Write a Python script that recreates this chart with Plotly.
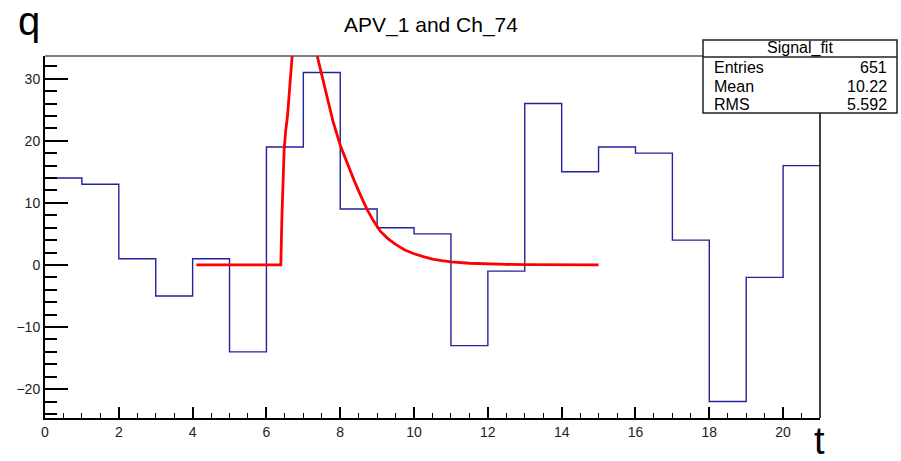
import plotly.graph_objects as go

# ---- data ----
bin_edges = list(range(0, 22))
bin_counts = [14, 13, 1, -5, 1, -14, 19, 31, 9, 6, 5, -13, -1, 26, 15, 19, 18, 4, -22, -2, 16]

fit_t = [4.1, 5.0, 6.0, 6.39, 6.42, 6.45, 6.48, 6.52, 6.57, 6.64, 6.70, 6.8, 6.9, 7.0, 7.1, 7.2,
         7.38, 7.5, 7.65, 7.8, 8.01, 8.2, 8.37, 8.55, 8.73, 8.9, 9.09, 9.3, 9.5, 9.75, 10.0,
         10.25, 10.5, 10.75, 11.0, 11.5, 12.0, 12.5, 13.0, 14.0, 15.0]
fit_q = [0, 0, 0, 0, 7.8, 13.5, 18.5, 21.5, 23.9, 29.3, 33.9, 38, 41, 42, 41, 38,
         33.6, 30.2, 26.6, 23.2, 19.1, 16.2, 13.7, 11.2, 8.9, 7.1, 5.4, 4.2, 3.3, 2.4, 1.8,
         1.35, 0.95, 0.7, 0.5, 0.27, 0.15, 0.08, 0.04, 0.01, 0]

title_text = "APV_1 and Ch_74"
stats_title = "Signal_fit"
stats_names = ["Entries", "Mean", "RMS"]
stats_values = ["651", "10.22", "5.592"]

# ---- layout geometry ----
W, H = 901, 461
ML, MR, MT, MB = 45, 81, 56, 43
PW, PH = W - ML - MR, H - MT - MB


def px(x):
    return (x - ML) / PW


def py(y):
    return (H - MB - y) / PH


FONT = "Liberation Sans, Arial, sans-serif"

fig = go.Figure()

fig.add_trace(go.Scatter(
    x=bin_edges,
    y=bin_counts + [bin_counts[-1]],
    mode="lines",
    line=dict(shape="hv", color="#23239a", width=1.4),
    showlegend=False,
    hoverinfo="skip",
))

fig.add_trace(go.Scatter(
    x=fit_t, y=fit_q,
    mode="lines",
    line=dict(color="#ff0000", width=2.8),
    showlegend=False,
    hoverinfo="skip",
))

axis_common = dict(
    showgrid=False, zeroline=False,
    showline=True, linecolor="black", linewidth=2,
    ticks="inside", tickcolor="black", tickwidth=1.5,
    tickfont=dict(family=FONT, size=14, color="#222"),
)

fig.update_xaxes(
    range=[0, 21], dtick=2, tick0=0, ticklen=11,
    minor=dict(dtick=0.5, tick0=0, ticklen=5, ticks="inside", tickcolor="black", tickwidth=1.2),
    **axis_common,
)
fig.update_yaxes(
    range=[-24.65, 33.65], dtick=10, tick0=0, ticklen=23,
    minor=dict(dtick=2, tick0=0, ticklen=12, ticks="inside", tickcolor="black", tickwidth=1.5),
    **axis_common,
)

shapes = [
    # top and right frame lines
    dict(type="line", xref="paper", yref="paper", x0=0, x1=1, y0=1, y1=1,
         line=dict(color="#555", width=1.5)),
    dict(type="line", xref="paper", yref="paper", x0=1, x1=1, y0=0, y1=1,
         line=dict(color="black", width=1.5)),
    # stats box
    dict(type="rect", xref="paper", yref="paper",
         x0=px(703), x1=px(897), y0=py(113), y1=py(40),
         fillcolor="white", line=dict(color="#222", width=1.5)),
    dict(type="line", xref="paper", yref="paper",
         x0=px(703), x1=px(897), y0=py(57), y1=py(57),
         line=dict(color="#222", width=1.5)),
]

annotations = [
    dict(text=title_text, x=px(431), y=py(25), xref="paper", yref="paper",
         xanchor="center", yanchor="middle", showarrow=False,
         font=dict(family=FONT, size=21, color="black")),
    dict(text="q", x=px(16), y=py(21), xref="paper", yref="paper",
         xanchor="left", yanchor="middle", showarrow=False,
         font=dict(family=FONT, size=40, color="black")),
    dict(text="t", x=px(819), y=py(441), xref="paper", yref="paper",
         xanchor="center", yanchor="middle", showarrow=False,
         font=dict(family=FONT, size=38, color="black")),
    dict(text=stats_title, x=px(800), y=py(48.5), xref="paper", yref="paper",
         xanchor="center", yanchor="middle", showarrow=False,
         font=dict(family=FONT, size=16, color="black")),
]
row_y = [67, 86, 104]
for name, val, yy in zip(stats_names, stats_values, row_y):
    annotations.append(dict(text=name, x=px(712), y=py(yy), xref="paper", yref="paper",
                            xanchor="left", yanchor="middle", showarrow=False,
                            font=dict(family=FONT, size=16, color="black")))
    annotations.append(dict(text=val, x=px(889), y=py(yy), xref="paper", yref="paper",
                            xanchor="right", yanchor="middle", showarrow=False,
                            font=dict(family=FONT, size=16, color="black")))

fig.update_layout(
    width=W, height=H,
    margin=dict(l=ML, r=MR, t=MT, b=MB, pad=0),
    paper_bgcolor="white", plot_bgcolor="white",
    shapes=shapes, annotations=annotations,
    showlegend=False,
)

fig.write_html("out.html")
